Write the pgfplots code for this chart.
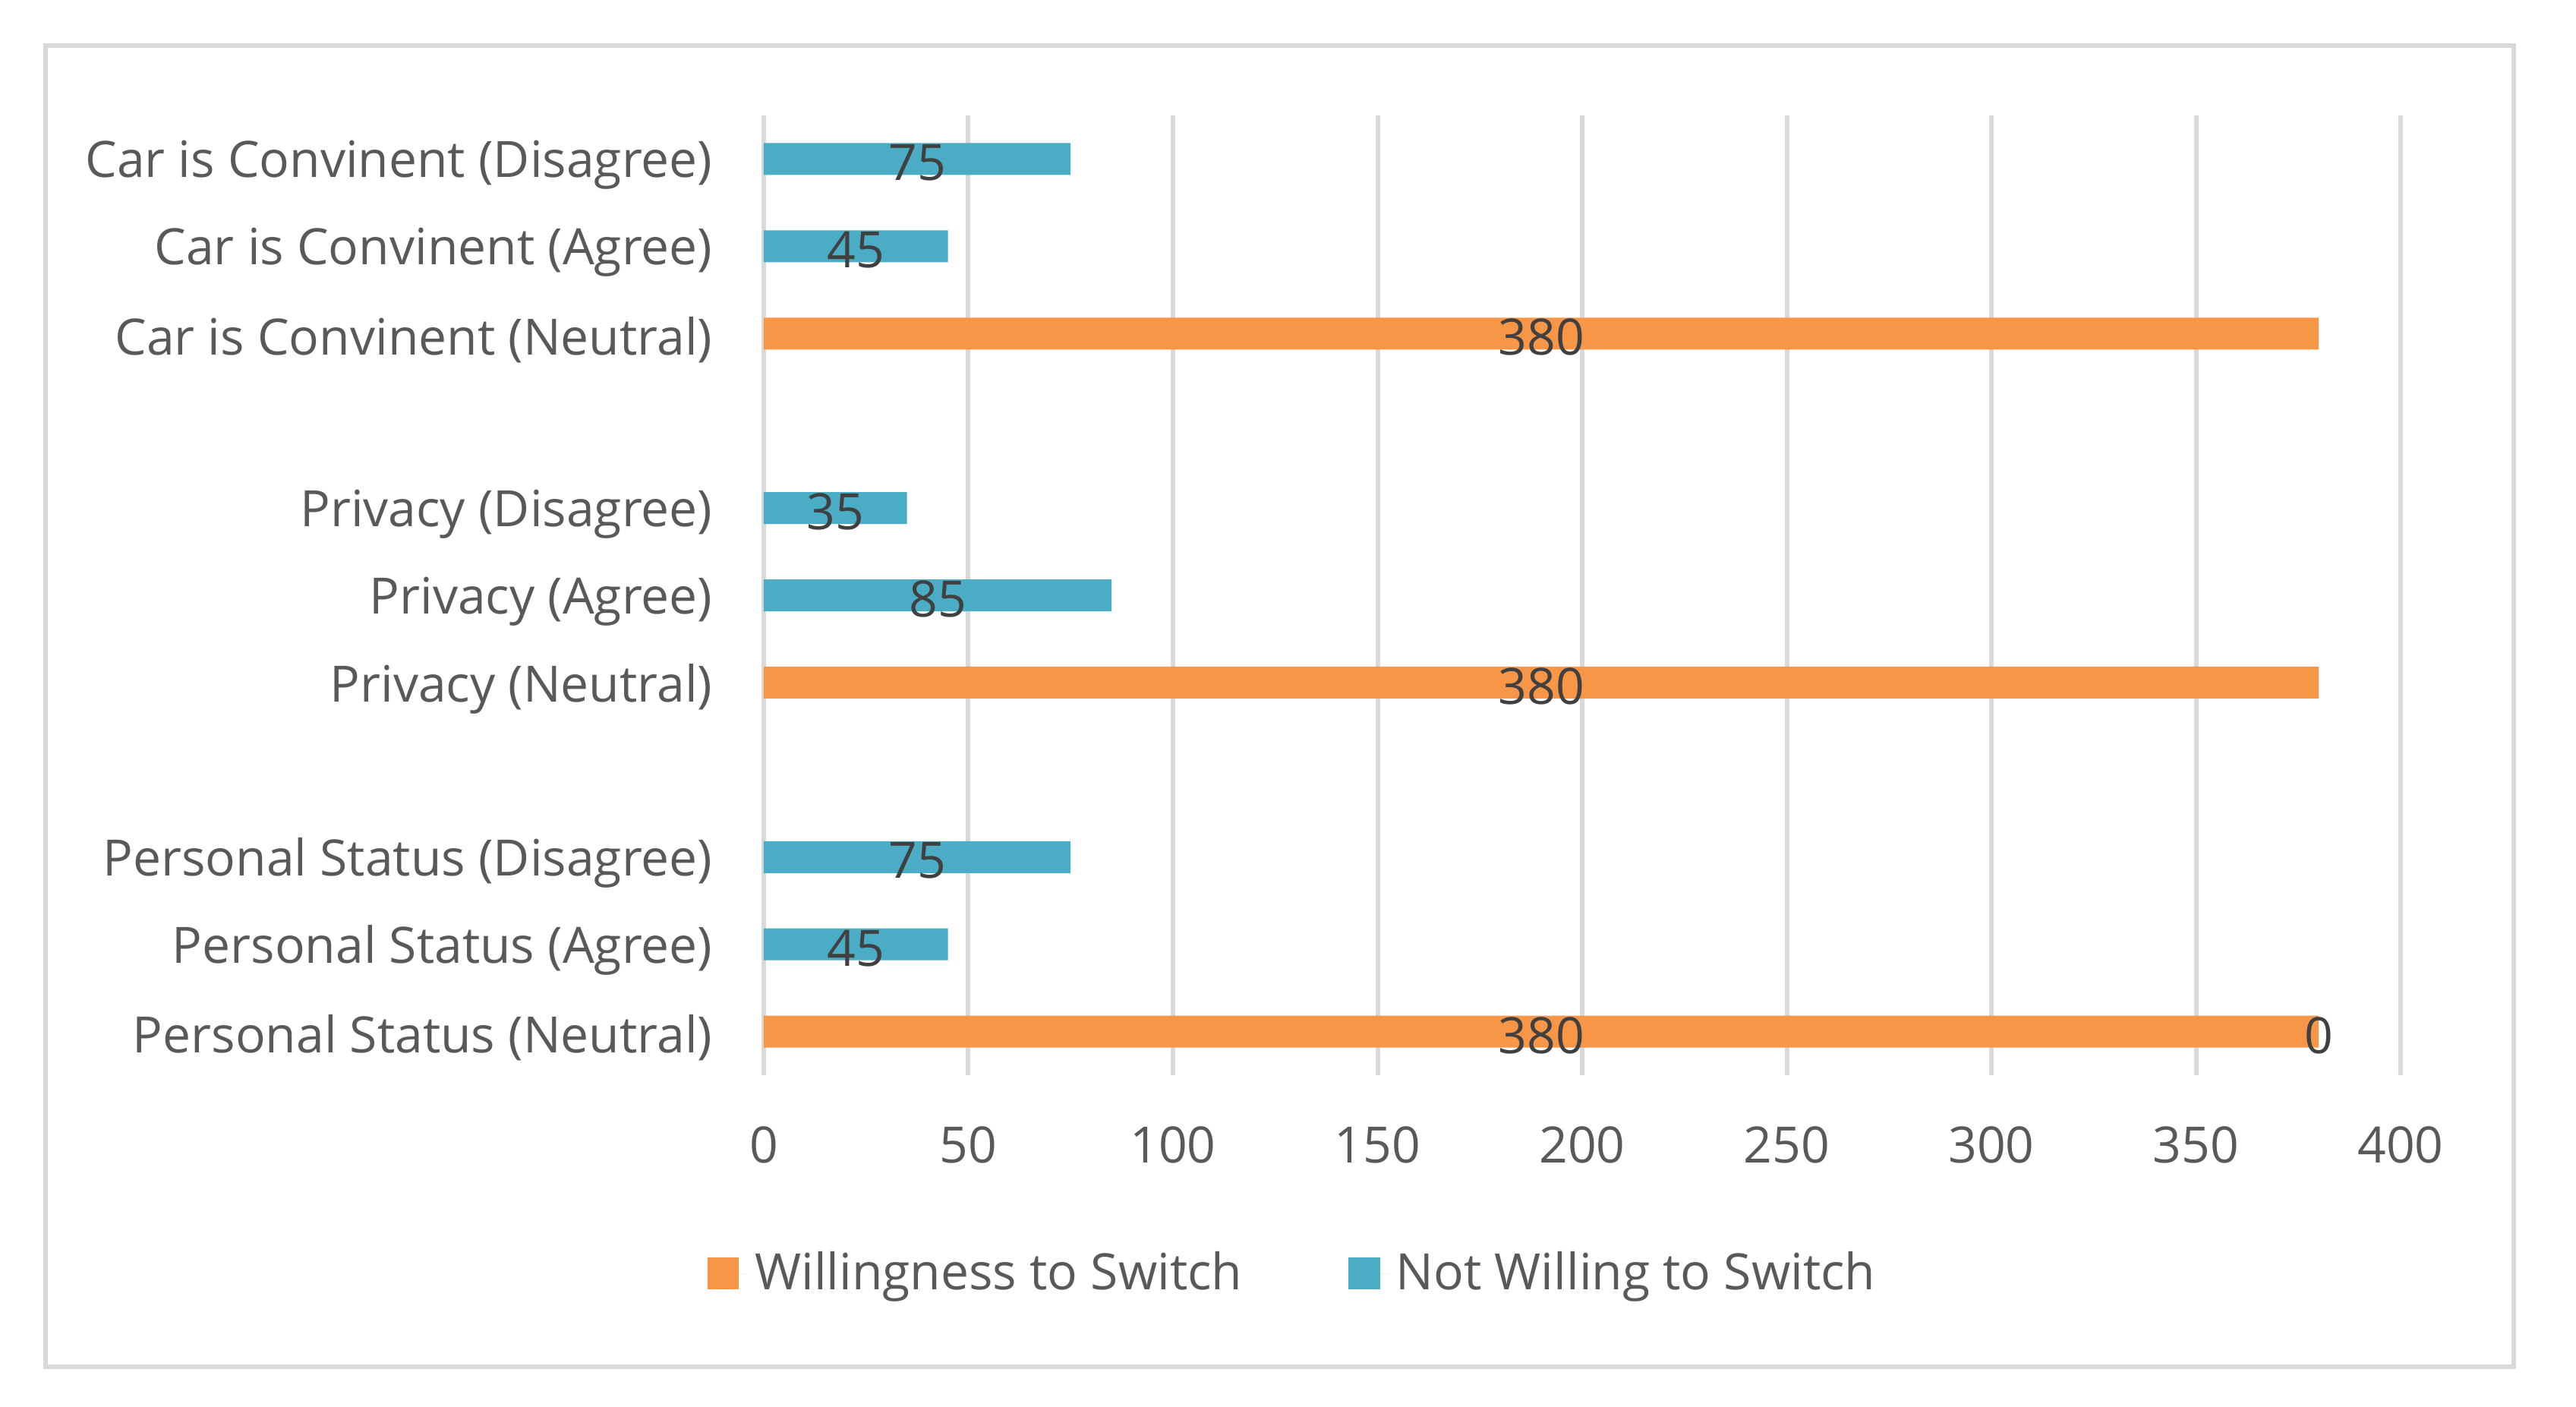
\documentclass[border=0pt]{standalone}
\usepackage{fontspec}
\setmainfont{Open Sans}
\usepackage{pgfplots}
\pgfplotsset{compat=1.18}
\definecolor{orangeS}{HTML}{F79646}
\definecolor{blueS}{HTML}{4BACC6}
\definecolor{gridc}{HTML}{D9D9D9}
\definecolor{txt}{HTML}{595959}
\definecolor{lbl}{HTML}{404040}
\begin{document}
\begin{tikzpicture}[font=\fontsize{13.2}{16}\selectfont]
\path[use as bounding box] (-201.2pt,-87.2pt) rectangle (477.4pt,283.2pt);
\draw[gridc, line width=1.2pt] (-189.2pt,-76.8pt) rectangle (461pt,271.2pt);
\begin{axis}[
  at={(0,0)}, anchor=south west,
  scale only axis, width=431.2pt, height=252.8pt,
  xmin=0, xmax=400, ymin=-0.5, ymax=10.5,
  xtick={0,50,...,400}, ytick={0,...,10},
  yticklabels={Personal Status (Neutral), Personal Status (Agree), Personal Status (Disagree), {}, Privacy (Neutral), Privacy (Agree), Privacy (Disagree), {}, Car is Convinent (Neutral), Car is Convinent (Agree), Car is Convinent (Disagree)},
  xmajorgrids, major grid style={gridc, line width=1.2pt},
  axis line style={draw=none}, major tick length=0pt,
  tick label style={text=txt, font=\fontsize{13.2}{16}\selectfont},
  /pgf/number format/assume math mode=true,
  xticklabel style={yshift=-10pt},
  yticklabel style={xshift=-10pt, yshift=-1.6pt},
  legend style={at={(0.3247,-0.2065)}, anchor=center, draw=none, fill=none, legend columns=2,
    /tikz/every even column/.append style={column sep=26pt},
    font=\fontsize{13.2}{16}\selectfont, text=txt, inner sep=0pt},
  legend image code/.code={\draw[#1,draw=none] (0pt,-4.1pt) rectangle (8.3pt,4.2pt);
    \path (0pt,0pt) -- (10.5pt,0pt);},
]
\addplot[xbar, bar width=8.4pt, bar shift=0pt, fill=orangeS, draw=none]
  coordinates {(380,0) (380,4) (380,8)};
\addlegendentry{Willingness to Switch}
\addplot[xbar, bar width=8.4pt, bar shift=0pt, fill=blueS, draw=none]
  coordinates {(45,1) (75,2) (85,5) (35,6) (45,9) (75,10)};
\addlegendentry{Not Willing to Switch}
\addplot[draw=none, forget plot, nodes near coords, point meta=explicit symbolic,
  every node near coord/.append style={anchor=center, text=lbl, yshift=-1pt, font=\fontsize{13.2}{16}\selectfont}]
  coordinates {(190,0)[380] (380,0)[0] (22.5,1)[45] (37.5,2)[75]
               (190,4)[380] (42.5,5)[85] (17.5,6)[35]
               (190,8)[380] (22.5,9)[45] (37.5,10)[75]};
\end{axis}
\end{tikzpicture}
\end{document}
